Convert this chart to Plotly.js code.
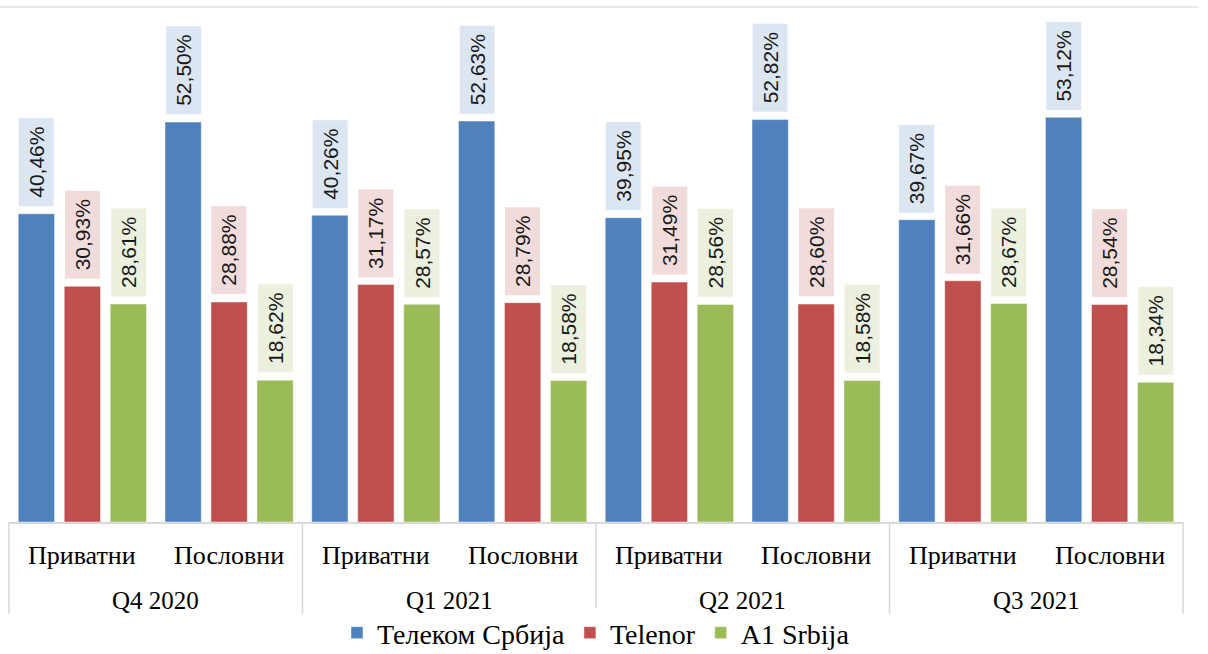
<!DOCTYPE html>
<html><head><meta charset="utf-8">
<script src="https://cdn.plot.ly/plotly-3.0.1.min.js"></script>
<style>html,body{margin:0;padding:0;background:#fff}#chart{width:1208px;height:654px}</style>
</head><body><div id="chart"></div>
<script>
const quarters = ['Q4 2020', 'Q1 2021', 'Q2 2021', 'Q3 2021'];
const segments = ['Приватни', 'Пословни'];
const seriesNames = ['Телеком Србија', 'Telenor', 'A1 Srbija'];
const telekom = [40.46, 52.50, 40.26, 52.63, 39.95, 52.82, 39.67, 53.12];
const telenor = [30.93, 28.88, 31.17, 28.79, 31.49, 28.60, 31.66, 28.54];
const a1 = [28.61, 18.62, 28.57, 18.58, 28.56, 18.58, 28.67, 18.34];

const colors = ['#4F81BD', '#C0504D', '#9BBB59'];
const labelBg = ['#DCE6F2', '#F2DCDB', '#EBF1DE'];
const series = [telekom, telenor, a1];

const outer = [], inner = [];
quarters.forEach(q => segments.forEach(s => { outer.push(q); inner.push(s); }));
const nCat = outer.length;

const W = 1208, H = 654;
const M = {l: 9, r: 25, t: 7, b: 132};
const plotH = H - M.t - M.b;
const plotW = W - M.l - M.r;

const bargap = 0.06;
const slot = (1 - bargap) / series.length;

const traces = series.map((vals, i) => ({
  type: 'bar',
  name: seriesNames[i],
  x: [outer, inner],
  y: vals,
  marker: {color: colors[i], line: {color: 'rgba(255,255,255,0.45)', width: 1}},
  hoverinfo: 'skip'
}));
traces.push({type: 'scatter', x: [], y: [], xaxis: 'x2', yaxis: 'y', showlegend: false, hoverinfo: 'skip'});

const fmt = v => v.toFixed(2).replace('.', ',') + '%';
const annotations = [];
series.forEach((vals, i) => {
  vals.forEach((v, k) => {
    annotations.push({
      xref: 'x2', yref: 'y',
      x: k + (i - (series.length - 1) / 2) * slot,
      y: v,
      text: fmt(v),
      textangle: -90,
      showarrow: false,
      xanchor: 'center', yanchor: 'bottom',
      yshift: 7,
      bgcolor: labelBg[i],
      borderpad: 0,
      width: 87, height: 34,
      align: 'center',
      font: {family: 'Liberation Sans, Arial, sans-serif', size: 21, color: '#1a1a1a'}
    });
  });
});

// category axis labels (inner and outer levels)
const innerFont = {family: 'Liberation Serif, serif', size: 26, color: '#000'};
const outerFont = {family: 'Liberation Serif, serif', size: 25, color: '#000'};
inner.forEach((s, k) => {
  annotations.push({
    xref: 'paper', yref: 'paper', x: (k + 0.5) / nCat, y: 0,
    xanchor: 'center', yanchor: 'middle', yshift: -33,
    text: s, showarrow: false, font: innerFont
  });
});
quarters.forEach((q, j) => {
  annotations.push({
    xref: 'paper', yref: 'paper', x: (j + 0.5) / quarters.length, y: 0,
    xanchor: 'center', yanchor: 'middle', yshift: -78,
    text: q, showarrow: false, font: outerFont
  });
});

const shapes = [{
  type: 'line', xref: 'paper', yref: 'paper',
  x0: -M.l / plotW, x1: (plotW + M.r - 9) / plotW, y0: 1, y1: 1,
  line: {color: '#DDE3EA', width: 1.5}
}];
for (let j = 0; j <= quarters.length; j++) {
  shapes.push({
    type: 'line', xref: 'paper', yref: 'paper',
    x0: j / quarters.length, x1: j / quarters.length,
    y0: 0, y1: -92 / plotH,
    line: {color: '#D9D9D9', width: 1.5}
  });
}

const layout = {
  width: W, height: H,
  margin: {l: M.l, r: M.r, t: M.t, b: M.b, autoexpand: false},
  paper_bgcolor: '#fff', plot_bgcolor: '#fff',
  barmode: 'group',
  bargap: bargap,
  bargroupgap: 0.21,
  showlegend: true,
  legend: {
    orientation: 'h', x: 0.5, xanchor: 'center', y: -111 / plotH, yanchor: 'middle',
    font: {family: 'Liberation Serif, serif', size: 28, color: '#000'},
    traceorder: 'normal'
  },
  xaxis: {
    type: 'multicategory',
    range: [-0.5, nCat - 0.5],
    showline: true, linecolor: '#D9D9D9', linewidth: 1.5,
    showdividers: false, showticklabels: false,
    ticks: '', showgrid: false, zeroline: false
  },
  xaxis2: {
    overlaying: 'x', range: [-0.5, nCat - 0.5], visible: false, fixedrange: true
  },
  yaxis: {
    range: [0, 67.6], visible: false, showgrid: false, zeroline: false
  },
  shapes: shapes,
  annotations: annotations
};

Plotly.newPlot('chart', traces, layout, {displayModeBar: false, staticPlot: true});
</script>
</body></html>
